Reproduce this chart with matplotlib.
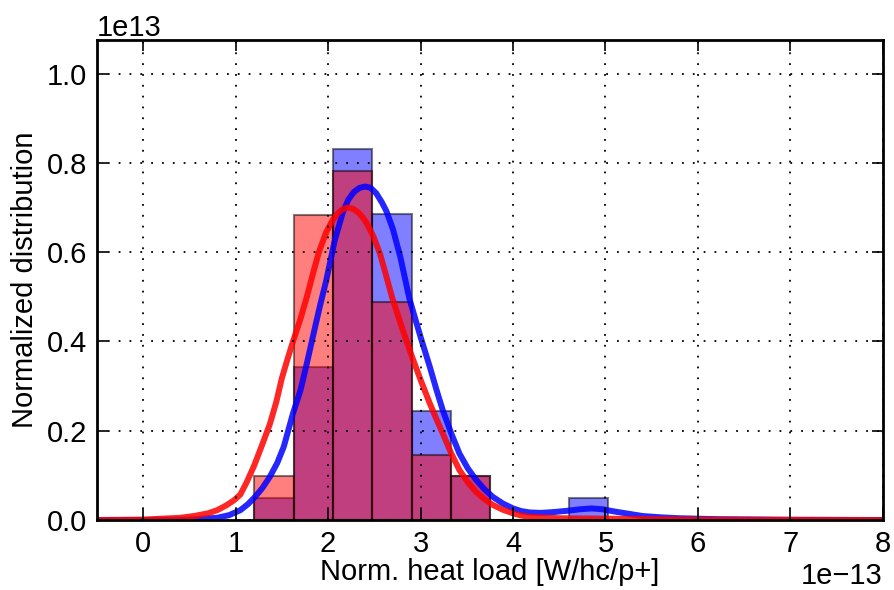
import matplotlib
matplotlib.use("Agg")
import matplotlib.pyplot as plt
import numpy as np

# histogram bins (units of 1e-13 W/hc/p+)
bin_edges = [1.203, 1.628, 2.054, 2.479, 2.905, 3.330, 3.756, 4.181, 4.607, 5.032]
# bar heights (units of 1e13)
blue_hist = [0.049, 0.342, 0.831, 0.685, 0.244, 0.098, 0.0, 0.0, 0.049]
red_hist = [0.098, 0.683, 0.781, 0.488, 0.146, 0.098, 0.0, 0.0, 0.0]

# smoothed curves
blue_x = [-0.5, 0.0, 0.3, 0.5, 0.65, 0.8, 0.93, 1.05, 1.13, 1.21, 1.29, 1.37, 1.45, 1.52, 1.62,
          1.7, 1.77, 1.84, 1.91, 1.98, 2.07, 2.16, 2.22, 2.28, 2.34, 2.4, 2.46, 2.52, 2.58,
          2.63, 2.7, 2.78, 2.88, 3.0, 3.1, 3.17, 3.24, 3.33, 3.42, 3.51, 3.6, 3.69, 3.78,
          3.89, 4.0, 4.09, 4.18, 4.3, 4.45, 4.6, 4.72, 4.85, 4.97, 5.1, 5.25, 5.4, 5.6, 5.8,
          6.2, 7.0, 8.0]
blue_y = [0.0, 0.0, 0.0005, 0.001, 0.003, 0.005, 0.011, 0.022, 0.035, 0.052, 0.072, 0.097, 0.128, 0.164, 0.239,
          0.29, 0.351, 0.415, 0.478, 0.537, 0.625, 0.69, 0.718, 0.735, 0.744, 0.747, 0.744, 0.732, 0.712,
          0.692, 0.652, 0.59, 0.495, 0.41, 0.343, 0.293, 0.246, 0.195, 0.149, 0.116, 0.09, 0.069, 0.052,
          0.037, 0.026, 0.02, 0.017, 0.016, 0.018, 0.021, 0.024, 0.026, 0.024, 0.019, 0.014, 0.009, 0.006, 0.004,
          0.002, 0.0005, 0.0]
red_x = [-0.5, 0.0, 0.4, 0.55, 0.7, 0.8, 0.9, 0.98, 1.05, 1.12, 1.2, 1.28, 1.37, 1.44, 1.5, 1.56,
         1.62, 1.7, 1.77, 1.84, 1.9, 1.98, 2.05, 2.1, 2.15, 2.21, 2.27, 2.32, 2.37, 2.42, 2.49,
         2.56, 2.62, 2.69, 2.8, 2.9, 3.0, 3.1, 3.17, 3.24, 3.33, 3.42, 3.51, 3.6, 3.69, 3.78,
         3.89, 4.0, 4.09, 4.18, 4.5, 5.0, 5.5, 6.0, 8.0]
red_y = [0.0, 0.001, 0.005, 0.009, 0.015, 0.022, 0.033, 0.044, 0.057, 0.085, 0.122, 0.165, 0.215, 0.265, 0.318, 0.36,
         0.40, 0.45, 0.50, 0.555, 0.60, 0.645, 0.672, 0.686, 0.695, 0.70, 0.697, 0.69, 0.679, 0.664, 0.635,
         0.597, 0.553, 0.50, 0.43, 0.37, 0.314, 0.261, 0.227, 0.194, 0.15, 0.112, 0.085, 0.063, 0.047, 0.034,
         0.023, 0.015, 0.01, 0.007, 0.004, 0.003, 0.002, 0.001, 0.0]

plt.rcParams["font.family"] = ["Liberation Sans", "DejaVu Sans"]
plt.rcParams["font.size"] = 21

fig = plt.figure(figsize=(8.94, 5.90), dpi=100)
ax = fig.add_axes([0.1085, 0.1186, 0.879, 0.8135])

edges = np.array(bin_edges) * 1e-13
widths = np.diff(edges)
ax.bar(edges[:-1], np.array(blue_hist) * 1e13, width=widths, align="edge",
       color="b", edgecolor="k", linewidth=1.5, alpha=0.5)
ax.bar(edges[:-1], np.array(red_hist) * 1e13, width=widths, align="edge",
       color="r", edgecolor="k", linewidth=1.5, alpha=0.5)

ax.plot(np.array(blue_x) * 1e-13, np.array(blue_y) * 1e13, color="b", lw=4.3, alpha=0.85,
        solid_joinstyle="round")
ax.plot(np.array(red_x) * 1e-13, np.array(red_y) * 1e13, color="r", lw=4.3, alpha=0.85,
        solid_joinstyle="round")

ax.set_xlim(-0.5e-13, 8e-13)
ax.set_ylim(0, 1.075e13)
ax.set_yticks(np.arange(0, 1.01, 0.2) * 1e13)
ax.set_xticks(np.arange(0, 9) * 1e-13)

ax.set_axisbelow(False)
ax.grid(True, color="k", linestyle=(0, (1, 5)), linewidth=1.3)
ax.tick_params(direction="in", top=True, right=True, length=8, width=1.2, pad=7)
for s in ax.spines.values():
    s.set_linewidth(2)

ax.set_xlabel("Norm. heat load [W/hc/p+]", labelpad=0)
ax.set_ylabel("Normalized distribution", labelpad=6)

fig.savefig("out.png", dpi=100)
